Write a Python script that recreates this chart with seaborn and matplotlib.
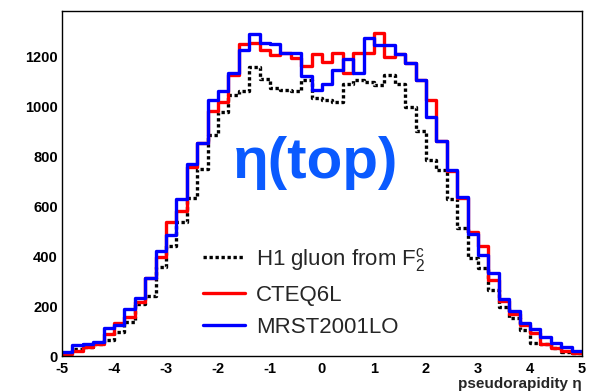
import numpy as np
import pandas as pd
import matplotlib
matplotlib.use('Agg')
import matplotlib.pyplot as plt
import seaborn as sns
from matplotlib.ticker import MultipleLocator

# bin counts, 50 bins of width 0.2 from eta=-5 to eta=5
h1_gluon = [5, 27, 38, 47, 66, 95, 135, 207, 242, 356,
            440, 538, 632, 750, 886, 976, 1043, 1060, 1155, 1108,
            1074, 1065, 1062, 1104, 1033, 1024, 1015, 1090, 1104, 1097,
            1084, 1126, 1090, 998, 900, 784, 746, 628, 511, 391,
            351, 264, 198, 151, 104, 54, 48, 31, 17, 11]
cteq6l = [9, 20, 38, 50, 90, 132, 156, 218, 311, 395,
          537, 580, 756, 853, 980, 1016, 1125, 1250, 1251, 1224,
          1204, 1211, 1191, 1160, 1207, 1177, 1212, 1131, 1211, 1211,
          1292, 1197, 1207, 1173, 1103, 1024, 860, 742, 631, 496,
          440, 306, 219, 169, 124, 93, 50, 32, 22, 13]
mrst2001lo = [15, 44, 48, 58, 113, 125, 187, 233, 311, 419,
              484, 628, 770, 853, 1026, 1059, 1133, 1224, 1288, 1251,
              1247, 1213, 1213, 1122, 1064, 1090, 1144, 1189, 1132, 1271,
              1244, 1244, 1209, 1173, 1103, 956, 860, 746, 636, 490,
              406, 334, 230, 179, 134, 108, 75, 53, 37, 21]
labels = ['H1 gluon from $F_2^c$', 'CTEQ6L', 'MRST2001LO']

edges = np.linspace(-5, 5, len(cteq6l) + 1)
centers = 0.5 * (edges[:-1] + edges[1:])

sns.set_style("white")
plt.rcParams['font.family'] = ['Liberation Sans', 'DejaVu Sans']
plt.rcParams['mathtext.fontset'] = 'custom'
plt.rcParams['mathtext.rm'] = 'Liberation Sans'
plt.rcParams['mathtext.default'] = 'regular'
plt.rcParams['axes.unicode_minus'] = False

fig = plt.figure(figsize=(5.97, 3.91), dpi=100)
ax = fig.add_axes([62 / 597, 1 - 356 / 391, 520 / 597, 345 / 391])

series = [(h1_gluon, 'black', (0, (1, 0.8))),
          (cteq6l, '#ff0000', '-'),
          (mrst2001lo, '#0000ff', '-')]
for (counts, color, ls), lab in zip(series, labels):
    df = pd.DataFrame({'eta': centers, 'n': counts})
    sns.histplot(data=df, x='eta', weights='n', binwidth=0.2, binrange=(-5, 5),
                 element='step', fill=False, color=color, linestyle=ls,
                 linewidth=2.4, label=lab, ax=ax)

ax.set_xlim(-5, 5)
ax.set_ylim(0, 1380)
ax.set_ylabel('')
ax.set_xlabel('pseudorapidity η', fontsize=11, fontweight='bold', loc='right', labelpad=1)

ax.xaxis.set_major_locator(MultipleLocator(1))
ax.xaxis.set_minor_locator(MultipleLocator(0.2))
ax.yaxis.set_major_locator(MultipleLocator(200))
ax.yaxis.set_minor_locator(MultipleLocator(50))
ax.tick_params(which='both', direction='in', top=False, right=False, width=1, colors='black')
ax.tick_params(which='major', length=9, labelsize=10.5)
ax.tick_params(axis='x', which='major', pad=4)
ax.tick_params(axis='y', which='major', pad=3)
ax.tick_params(which='minor', length=4.5)
for t in ax.get_xticklabels() + ax.get_yticklabels():
    t.set_fontweight('bold')
for sp in ax.spines.values():
    sp.set_color('black')
    sp.set_linewidth(1)

ax.text(-0.12, 772, 'η(top)', color='#0a5aff', fontsize=42, fontweight='bold',
        ha='center', va='center')

ax.legend(loc='upper left', bbox_to_anchor=(0.254, 0.345), frameon=False, fontsize=16,
          handlelength=1.9, handletextpad=0.5, labelspacing=0.5, borderaxespad=0)

fig.savefig('out.png', dpi=100)
